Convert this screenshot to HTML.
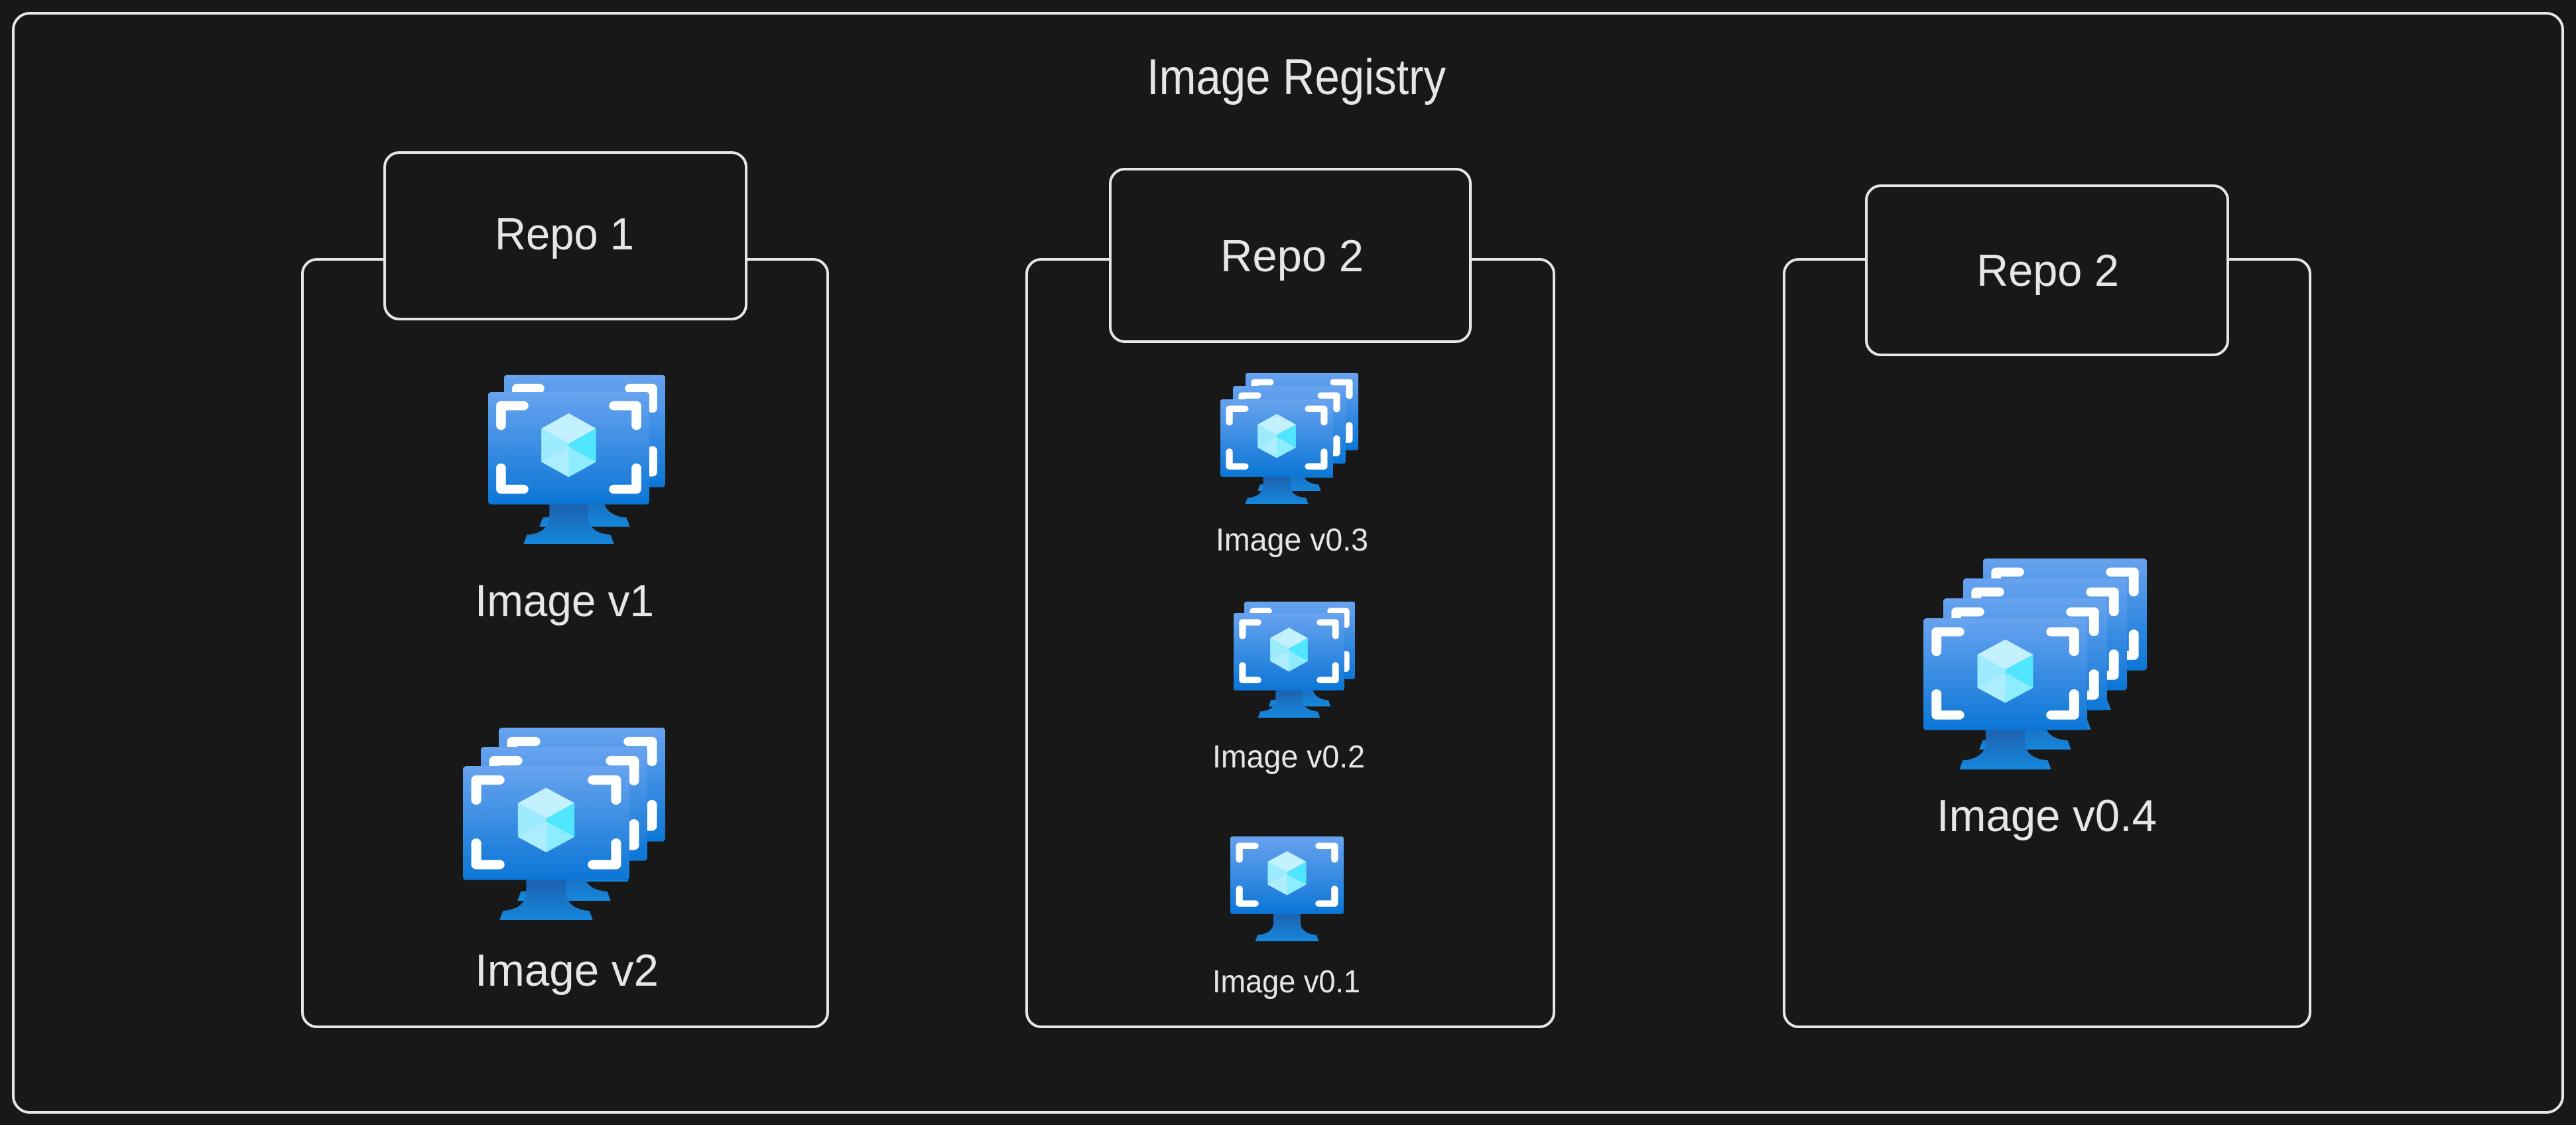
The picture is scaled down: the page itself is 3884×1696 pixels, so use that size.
<!DOCTYPE html>
<html><head><meta charset="utf-8"><style>
html,body{margin:0;padding:0;background:#181818;}
svg{display:block}
text{font-family:"Liberation Sans",sans-serif;fill:#e6e6e6;}
</style></head><body>
<svg width="3884" height="1696" viewBox="0 0 3884 1696" xmlns="http://www.w3.org/2000/svg">
<defs>
<linearGradient id="g" x1="0" y1="0" x2="0" y2="1"><stop offset="0" stop-color="#68a3ef"/><stop offset="1" stop-color="#0b76d6"/></linearGradient>
<linearGradient id="gs" x1="0" y1="0" x2="0" y2="1"><stop offset="0" stop-color="#1f5ca8"/><stop offset="1" stop-color="#1587dc"/></linearGradient>
<symbol id="m" viewBox="0 0 100 100" preserveAspectRatio="none">
<path d="M38 70 L62 70 L62 84 Q64 93 76 94 L78 100 L22 100 L24 94 Q36 93 38 84 Z" fill="url(#gs)"/>
<rect x="0" y="0" width="100" height="74" rx="2" fill="url(#g)"/>
<g fill="none" stroke="#fff" stroke-width="6" stroke-linecap="round" stroke-linejoin="round">
<path d="M8 22 V9 H22"/><path d="M78 9 H92 V22"/><path d="M8 50 V64 H22"/><path d="M78 64 H92 V50"/>
</g>
<polygon points="50,14 67,24 50,34 33,24" fill="#c3f1ff"/>
<polygon points="33,24 50,34 50,56 33,46" fill="#9cebff"/>
<polygon points="67,24 50,34 50,56 67,46" fill="#50e6ff"/>
<polygon points="33,46 50,36 67,46 50,56" fill="#b8f0ff" opacity="0.6"/>
</symbol>
</defs>
<rect width="3884" height="1696" fill="#181818"/>
<g fill="none" stroke="#e6e6e6" stroke-width="4">
<rect x="20" y="20" width="3844" height="1657" rx="25"/>
<rect x="456" y="391" width="792" height="1157" rx="22"/>
<rect x="1548" y="391" width="795" height="1157" rx="22"/>
<rect x="2690" y="391" width="793" height="1157" rx="22"/>
</g>
<g fill="#181818" stroke="#e6e6e6" stroke-width="4">
<rect x="580" y="230" width="545" height="251" rx="22"/>
<rect x="1674" y="255" width="543" height="260" rx="22"/>
<rect x="2814" y="280" width="545" height="255" rx="22"/>
</g>
<text x="1729" y="142" font-size="76" textLength="451" lengthAdjust="spacingAndGlyphs">Image Registry</text>
<text x="746" y="376" font-size="68" textLength="210" lengthAdjust="spacingAndGlyphs">Repo 1</text>
<text x="1840" y="409" font-size="68" textLength="216" lengthAdjust="spacingAndGlyphs">Repo 2</text>
<text x="2980" y="431" font-size="68" textLength="215" lengthAdjust="spacingAndGlyphs">Repo 2</text>
<text x="716" y="929" font-size="68" textLength="270" lengthAdjust="spacingAndGlyphs">Image v1</text>
<text x="716" y="1486" font-size="68" textLength="277" lengthAdjust="spacingAndGlyphs">Image v2</text>
<text x="1833" y="830" font-size="48" textLength="230" lengthAdjust="spacingAndGlyphs">Image v0.3</text>
<text x="1828" y="1157" font-size="48" textLength="230" lengthAdjust="spacingAndGlyphs">Image v0.2</text>
<text x="1828" y="1496" font-size="48" textLength="223" lengthAdjust="spacingAndGlyphs">Image v0.1</text>
<text x="2920" y="1253" font-size="68" textLength="332" lengthAdjust="spacingAndGlyphs">Image v0.4</text>
<use href="#m" x="760" y="565" width="243" height="229"/>
<use href="#m" x="736" y="591" width="243" height="229"/>
<use href="#m" x="752" y="1097" width="251" height="232"/>
<use href="#m" x="725" y="1126" width="251" height="232"/>
<use href="#m" x="698" y="1155" width="251" height="232"/>
<use href="#m" x="1878" y="562" width="170" height="158"/>
<use href="#m" x="1859" y="582" width="170" height="158"/>
<use href="#m" x="1840" y="602" width="170" height="158"/>
<use href="#m" x="1876" y="907" width="167" height="158"/>
<use href="#m" x="1860" y="924" width="167" height="158"/>
<use href="#m" x="1855" y="1261" width="171" height="158"/>
<use href="#m" x="2990" y="842" width="247" height="228"/>
<use href="#m" x="2960" y="872" width="247" height="228"/>
<use href="#m" x="2930" y="902" width="247" height="228"/>
<use href="#m" x="2900" y="932" width="247" height="228"/>
</svg>
</body></html>
